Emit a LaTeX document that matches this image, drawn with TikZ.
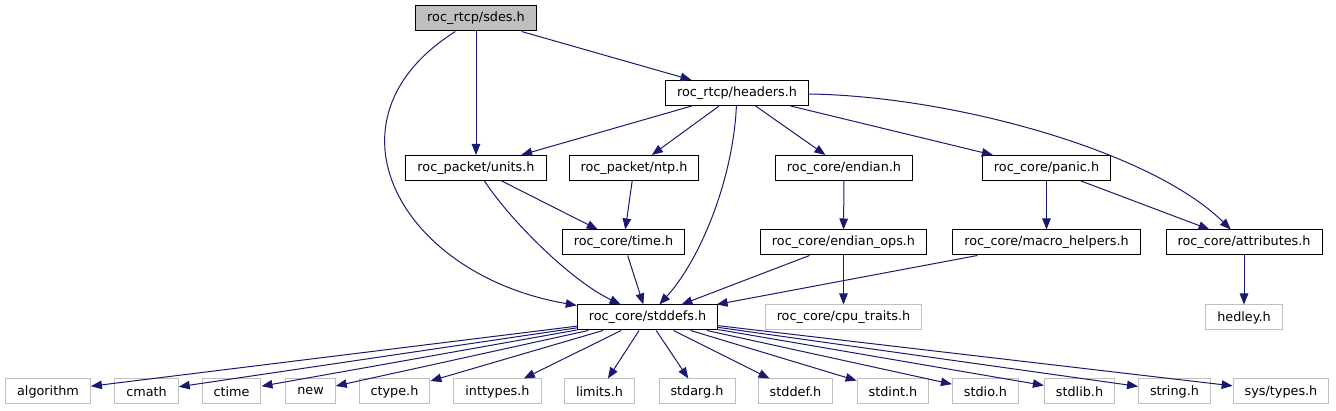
\documentclass[tikz,border=0pt]{standalone}
\usepackage{fontspec}
\setmainfont{DejaVu Sans}
\usetikzlibrary{arrows.meta}

\definecolor{incblue}{HTML}{191970}
\definecolor{extgray}{HTML}{BFBFBF}

\begin{document}
\begin{tikzpicture}[x=1pt,y=-1pt,
  file/.style={draw=black, line width=1pt, minimum height=25pt, inner xsep=11.5pt, inner ysep=0pt, font=\fontsize{12.8}{14}\selectfont},
  extfile/.style={file, draw=extgray},
  thisfile/.style={file, fill=extgray},
  inc/.style={draw=incblue, line width=1pt, -{Triangle[length=11pt,width=8.5pt]}}]

\useasboundingbox (0,0) rectangle (1336,411);

%%% ファイル
\node[thisfile] (sdes) at (476,18.5) {roc\_rtcp/sdes.h};
\node[file] (headers) at (737,93) {roc\_rtcp/headers.h};

\node[file] (units) at (476,168) {roc\_packet/units.h};
\node[file] (ntp) at (634,168) {roc\_packet/ntp.h};
\node[file] (endian) at (844,168) {roc\_core/endian.h};
\node[file] (panic) at (1046.5,168) {roc\_core/panic.h};

\node[file] (time) at (623.5,242.5) {roc\_core/time.h};
\node[file] (endianops) at (843.5,242.5) {roc\_core/endian\_ops.h};
\node[file] (macro) at (1046.5,242.5) {roc\_core/macro\_helpers.h};
\node[file] (attributes) at (1244,242.5) {roc\_core/attributes.h};

\node[file] (stddefs) at (647.5,317.5) {roc\_core/stddefs.h};
\node[extfile] (cputraits) at (843.5,317.5) {roc\_core/cpu\_traits.h};
\node[extfile] (hedley) at (1244,317.5) {hedley.h};
%%%

%% 標準ヘッダ
\node[extfile] (algorithm) at (48,391.5) {algorithm};
\node[extfile] (cmath) at (146.5,391.5) {cmath};
\node[extfile] (ctime) at (231.5,391.5) {ctime};
\node[extfile] (new) at (310.5,391.5) {new};
\node[extfile] (ctype) at (394.5,391.5) {ctype.h};
\node[extfile] (inttypes) at (497.5,391.5) {inttypes.h};
\node[extfile] (limits) at (599.5,391.5) {limits.h};
\node[extfile] (stdarg) at (697,391.5) {stdarg.h};
\node[extfile] (stddef) at (795.5,391.5) {stddef.h};
\node[extfile] (stdint) at (893,391.5) {stdint.h};
\node[extfile] (stdio) at (985.5,391.5) {stdio.h};
\node[extfile] (stdlib) at (1079.5,391.5) {stdlib.h};
\node[extfile] (string) at (1174.5,391.5) {string.h};
\node[extfile] (systypes) at (1281,391.5) {sys/types.h};

%% 上の段
\draw[inc] (sdes) -- (headers);
\draw[inc] (sdes) -- (units);
\draw[inc] (sdes) .. controls (315,120) and (400,275) .. (stddefs);

\draw[inc] (headers) -- (units);
\draw[inc] (headers) -- (ntp);
\draw[inc] (headers) .. controls (733,180) and (700,260) .. (stddefs);
\draw[inc] (headers) -- (endian);
\draw[inc] (headers) -- (panic);
\draw[inc] (headers) .. controls (950,96) and (1150,150) .. (attributes);

%% 中の段
\draw[inc] (units) -- (time);
\draw[inc] (units) .. controls (510,220) and (570,280) .. (stddefs);
\draw[inc] (ntp) -- (time);
\draw[inc] (time) -- (stddefs);
\draw[inc] (endian) -- (endianops);
\draw[inc] (endianops) -- (stddefs);
\draw[inc] (endianops) -- (cputraits);
\draw[inc] (panic) -- (macro);
\draw[inc] (panic) -- (attributes);
\draw[inc] (macro) -- (stddefs);
\draw[inc] (attributes) -- (hedley);

%% stddefs.h から
\draw[inc] (stddefs) -- (algorithm);
\draw[inc] (stddefs) -- (cmath);
\draw[inc] (stddefs) -- (ctime);
\draw[inc] (stddefs) -- (new);
\draw[inc] (stddefs) -- (ctype);
\draw[inc] (stddefs) -- (inttypes);
\draw[inc] (stddefs) -- (limits);
\draw[inc] (stddefs) -- (stdarg);
\draw[inc] (stddefs) -- (stddef);
\draw[inc] (stddefs) -- (stdint);
\draw[inc] (stddefs) -- (stdio);
\draw[inc] (stddefs) -- (stdlib);
\draw[inc] (stddefs) -- (string);
\draw[inc] (stddefs) -- (systypes);

\end{tikzpicture}
\end{document}
